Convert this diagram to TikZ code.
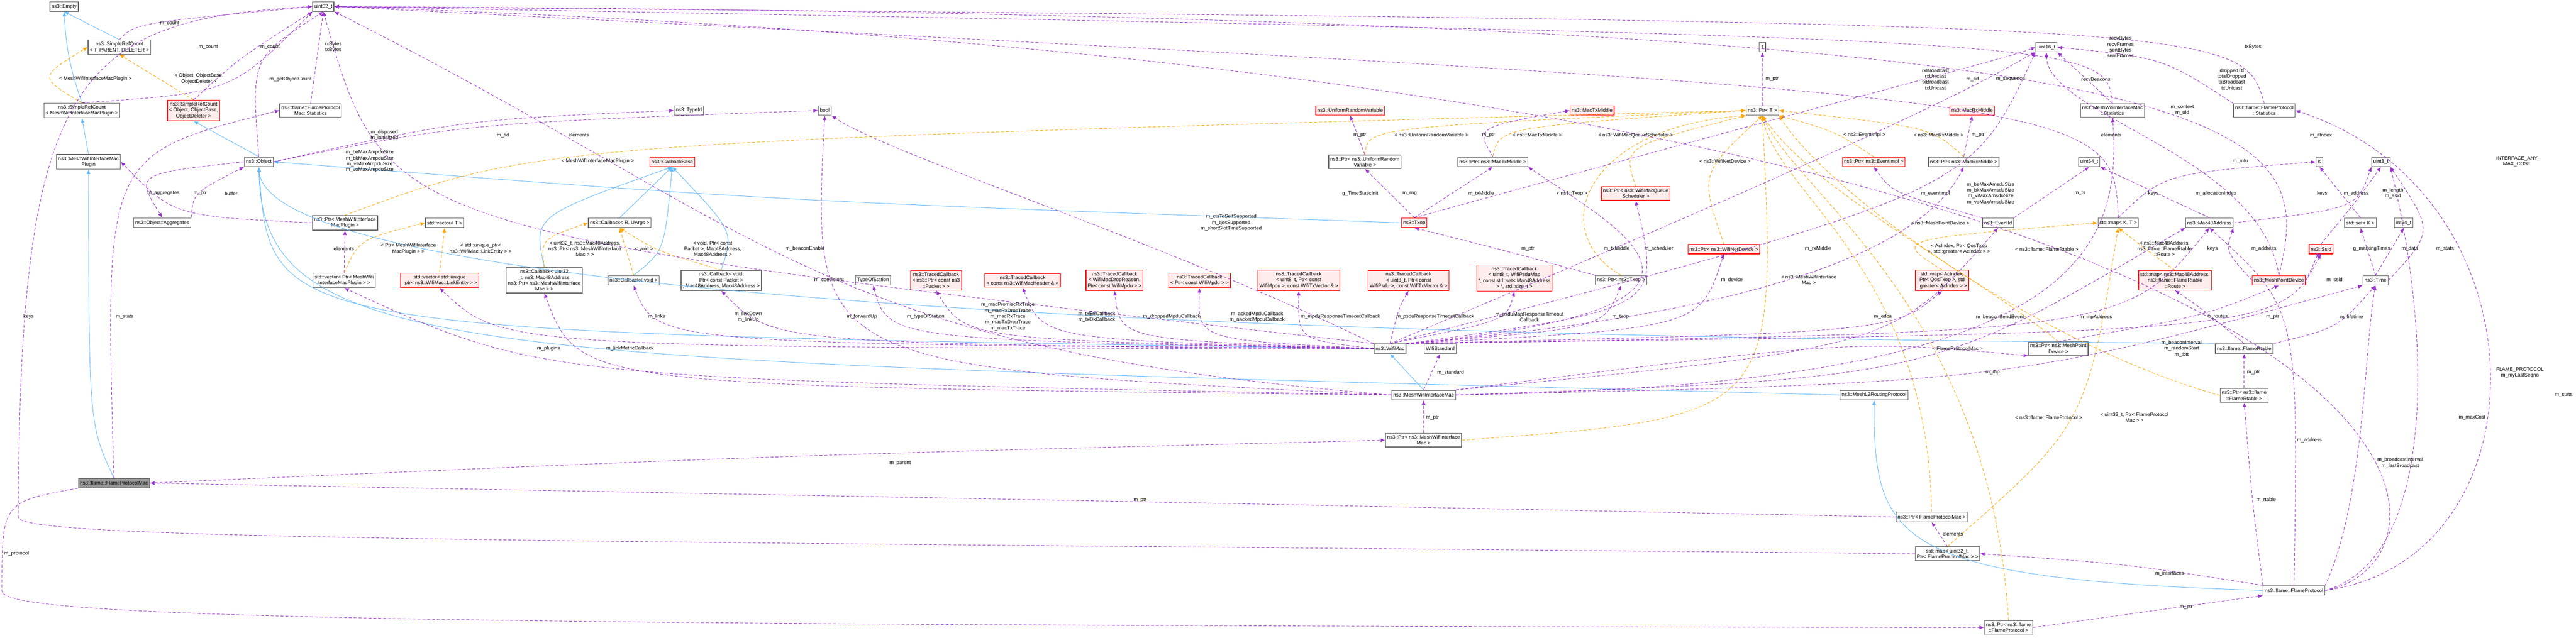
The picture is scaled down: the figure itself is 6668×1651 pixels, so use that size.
\documentclass[tikz,border=0pt]{standalone}
\usepackage{fontspec}
\setmainfont{Liberation Sans}
\usetikzlibrary{arrows.meta}
\definecolor{usec}{HTML}{9A32CD}
\definecolor{tplc}{HTML}{FFA500}
\definecolor{inhc}{HTML}{63B8FF}
\tikzset{
 box/.style={draw=black!60,fill=white,line width=0.5pt,font=\fontsize{3.7}{4.3}\selectfont,inner xsep=1.2pt,inner ysep=1.5pt,align=center,minimum height=7pt},
 rbox/.style={box,draw=red,fill=red!7},
 mbox/.style={box,fill=black!40,draw=black!60},
 lab/.style={font=\fontsize{3.7}{4.3}\selectfont,align=center,inner sep=0pt},
 tip/.style={-{Latex[length=3.4pt,width=2.8pt]}},
 usee/.style={tip,draw=usec,dashed,dash pattern=on 2.2pt off 1.4pt,line width=0.35pt},
 tpl/.style={tip,draw=tplc,dashed,dash pattern=on 2.2pt off 1.4pt,line width=0.35pt},
 inh/.style={tip,draw=inhc,line width=0.35pt},
}
\begin{document}
\begin{tikzpicture}[x=0.01cm,y=-0.01cm]
\useasboundingbox (0,0) rectangle (6668,1651);
% nodes
\node[box] (empty) at (166,17) {ns3::Empty};
\node[box] (u32) at (837,17) {uint32\_t};
\node[box] (srcT) at (309,122) {ns3::SimpleRefCount\\< T, PARENT, DELETER >};
\node[box] (srcP) at (212,286) {ns3::SimpleRefCount\\< MeshWifiInterfaceMacPlugin >};
\node[rbox] (srcO) at (501,286) {ns3::SimpleRefCount\\< Object, ObjectBase,\\ ObjectDeleter >};
\node[box] (fpmst) at (804,286) {ns3::flame::FlameProtocol\\Mac::Statistics};
\node[box] (plug) at (229,419) {ns3::MeshWifiInterfaceMac\\Plugin};
\node[box] (obj) at (670,419) {ns3::Object};
\node[box] (agg) at (420,577) {ns3::Object::Aggregates};
\node[box] (pplug) at (893,577) {ns3::Ptr< MeshWifiInterface\\MacPlugin >};
\node[box] (vecT) at (1151,577) {std::vector< T >};
\node[box] (cbR) at (1604,577) {ns3::Callback< R, UArgs >};
\node[box] (vplug) at (891,726) {std::vector< Ptr< MeshWifi\\InterfaceMacPlugin > >};
\node[rbox] (vlink) at (1138,726) {std::vector< std::unique\\\_ptr< ns3::WifiMac::LinkEntity > >};
\node[box] (cbU) at (1409,726) {ns3::Callback< uint32\\\_t, ns3::Mac48Address,\\ ns3::Ptr< ns3::MeshWifiInterface\\Mac > >};
\node[box] (cbV) at (1640,726) {ns3::Callback< void >};
\node[box] (cbP) at (1867,726) {ns3::Callback< void,\\ Ptr< const Packet >\\, Mac48Address, Mac48Address >};
\node[rbox] (cbase) at (1740,419) {ns3::CallbackBase};
\node[box] (typeid) at (1783,286) {ns3::TypeId};
\node[box] (bool) at (2135,286) {bool};
\node[box] (tos) at (2260,726) {TypeOfStation};
\node[rbox] (tc1) at (2423,726) {ns3::TracedCallback\\< ns3::Ptr< const ns3\\::Packet > >};
\node[rbox] (tc2) at (2647,726) {ns3::TracedCallback\\< const ns3::WifiMacHeader \& >};
\node[rbox] (tc3) at (2885,726) {ns3::TracedCallback\\< WifiMacDropReason,\\ Ptr< const WifiMpdu > >};
\node[rbox] (tc4) at (3105,726) {ns3::TracedCallback\\< Ptr< const WifiMpdu > >};
\node[rbox] (tc5) at (3362,726) {ns3::TracedCallback\\< uint8\_t, Ptr< const\\ WifiMpdu >, const WifiTxVector \& >};
\node[rbox] (tc6) at (3646,726) {ns3::TracedCallback\\< uint8\_t, Ptr< const\\ WifiPsdu >, const WifiTxVector \& >};
\node[rbox] (tc7) at (3920,720) {ns3::TracedCallback\\< uint8\_t, WifiPsduMap\\ *, const std::set< Mac48Address\\ > *, std::size\_t >};
\node[box] (T) at (4562,122) {T};
\node[rbox] (urv) at (3495,286) {ns3::UniformRandomVariable};
\node[rbox] (mtm) at (4121,286) {ns3::MacTxMiddle};
\node[box] (ptrT) at (4562,286) {ns3::Ptr< T >};
\node[box] (purv) at (3533,419) {ns3::Ptr< ns3::UniformRandom\\Variable >};
\node[box] (pmtm) at (3864,419) {ns3::Ptr< ns3::MacTxMiddle >};
\node[rbox] (pevi) at (4850,419) {ns3::Ptr< ns3::EventImpl >};
\node[rbox] (pwmqs) at (4234,501) {ns3::Ptr< ns3::WifiMacQueue\\Scheduler >};
\node[rbox] (txop) at (3661,577) {ns3::Txop};
\node[rbox] (pwnd) at (4462,645) {ns3::Ptr< ns3::WifiNetDevice >};
\node[box] (ptxop) at (4196,726) {ns3::Ptr< ns3::Txop >};
\node[box] (u16) at (5297,122) {uint16\_t};
\node[box] (mwst) at (5468,286) {ns3::MeshWifiInterfaceMac\\::Statistics};
\node[box] (fpst) at (5861,286) {ns3::flame::FlameProtocol\\::Statistics};
\node[rbox] (mrm) at (5105,286) {ns3::MacRxMiddle};
\node[box] (pmrm) at (5083,419) {ns3::Ptr< ns3::MacRxMiddle >};
\node[box] (u64) at (5408,419) {uint64\_t};
\node[box] (K) at (6004,419) {K};
\node[box] (u8) at (6163,419) {uint8\_t};
\node[box] (evid) at (5172,577) {ns3::EventId};
\node[box] (mapKT) at (5483,577) {std::map< K, T >};
\node[box] (mac48) at (5719,577) {ns3::Mac48Address};
\node[box] (setK) at (6110,577) {std::set< K >};
\node[box] (i64) at (6222,577) {int64\_t};
\node[rbox] (ssid) at (6008,645) {ns3::Ssid};
\node[rbox] (mapAc) at (5027,726) {std::map< AcIndex,\\ Ptr< QosTxop >, std\\::greater< AcIndex > >};
\node[rbox] (mapRt) at (5630,726) {std::map< ns3::Mac48Address,\\ ns3::flame::FlameRtable\\::Route >};
\node[rbox] (mpd) at (5899,726) {ns3::MeshPointDevice};
\node[box] (time) at (6149,726) {ns3::Time};
\node[box] (wmac) at (3598,903) {ns3::WifiMac};
\node[box] (wstd) at (3728,903) {WifiStandard};
\node[box] (mwim) at (3685,1023) {ns3::MeshWifiInterfaceMac};
\node[box] (pmwim) at (3685,1140) {ns3::Ptr< ns3::MeshWifiInterface\\Mac >};
\node[box] (l2rp) at (4851,1023) {ns3::MeshL2RoutingProtocol};
\node[box] (pmpd) at (5328,903) {ns3::Ptr< ns3::MeshPoint\\Device >};
\node[box] (frt) at (5809,903) {ns3::flame::FlameRtable};
\node[box] (pfrt) at (5809,1024) {ns3::Ptr< ns3::flame\\::FlameRtable >};
\node[box] (pfpm) at (5000,1339) {ns3::Ptr< FlameProtocolMac >};
\node[box] (mapfpm) at (5041,1434) {std::map< uint32\_t,\\ Ptr< FlameProtocolMac > >};
\node[box] (fp) at (5938,1529) {ns3::flame::FlameProtocol};
\node[box] (pfp) at (5199,1625) {ns3::Ptr< ns3::flame\\::FlameProtocol >};
\node[mbox] (fpm) at (295,1251) {ns3::flame::FlameProtocolMac};
% free coordinates
\coordinate (c1) at (48,1340);
\coordinate (c2) at (5,1530);
% inheritance
\draw[inh] (srcP.north) to[bend left=8] (empty.south);
\draw[inh] (srcT.north) -- (empty.south);
\draw[inh] (plug.north) -- (srcP.south);
\draw[inh] (obj.north) -- (srcO.south);
\draw[inh] (fpm.north) .. controls (230,1100) .. (plug.south);
\draw[inh] (txop.west) .. controls (2000,520) .. (obj.east);
\draw[inh] (wmac.west) .. controls (700,860) .. (obj.south);
\draw[inh] (l2rp.west) .. controls (1200,930) and (680,940) .. (obj.south);
\draw[inh] (frt.north west) .. controls (5000,880) and (700,870) .. (obj.south);
\draw[inh] (mwim.north) -- (wmac.south);
\draw[inh] (fp.west) .. controls (4900,1500) and (4851,1400) .. (l2rp.south);
\draw[inh] (cbR.north) -- (cbase.south);
\draw[inh] (cbU.north) .. controls (1380,560) .. (cbase.south);
\draw[inh] (cbV.north) .. controls (1720,650) .. (cbase.south);
\draw[inh] (cbP.north) .. controls (1900,600) .. (cbase.south);
% templates
\draw[tpl] (srcP.north) .. controls (100,200) .. (srcT.west);
\draw[tpl] (srcO.north) -- (srcT.south);
\draw[tpl] (pplug.north) .. controls (1400,370) .. (ptrT.west);
\draw[tpl] (vplug.north) .. controls (930,620) .. (vecT.west);
\draw[tpl] (vlink.north) -- (vecT.south);
\draw[tpl] (cbU.north) .. controls (1400,620) .. (cbR.west);
\draw[tpl] (cbV.north) -- (cbR.south);
\draw[tpl] (cbP.north) .. controls (1700,650) .. (cbR.south);
\draw[tpl] (purv.north) .. controls (3540,330) .. (ptrT.west);
\draw[tpl] (pmtm.north) .. controls (3880,330) .. (ptrT.west);
\draw[tpl] (pwmqs.north) .. controls (4200,380) .. (ptrT.south west);
\draw[tpl] (ptxop.north) .. controls (4000,600) and (4100,330) .. (ptrT.south west);
\draw[tpl] (pwnd.north) .. controls (4400,450) .. (ptrT.south);
\draw[tpl] (pmwim.east) .. controls (4600,1080) .. (ptrT.south);
\draw[tpl] (pevi.north) .. controls (4750,340) .. (ptrT.south east);
\draw[tpl] (pmrm.north) .. controls (5000,330) .. (ptrT.east);
\draw[tpl] (pmpd.north) .. controls (5100,700) and (4700,500) .. (ptrT.south);
\draw[tpl] (pfrt.west) .. controls (5300,900) and (4750,520) .. (ptrT.south east);
\draw[tpl] (pfpm.north) .. controls (4990,700) and (4600,500) .. (ptrT.south);
\draw[tpl] (pfp.north) .. controls (5150,800) and (4650,500) .. (ptrT.south);
\draw[tpl] (mapAc.north) .. controls (4900,620) .. (mapKT.west);
\draw[tpl] (mapRt.north) .. controls (5560,650) .. (mapKT.south);
\draw[tpl] (mapfpm.north) .. controls (5400,1100) .. (mapKT.south);
% usage
\draw[usee] (srcT.north) .. controls (350,60) .. (u32.west);
\draw[usee] (srcP.north) .. controls (600,240) .. (u32.south west);
\draw[usee] (srcO.north) .. controls (620,150) .. (u32.south west);
\draw[usee] (obj.north) .. controls (650,150) .. (u32.south);
\draw[usee] (fpmst.north) -- (u32.south);
\draw[usee] (obj.east) .. controls (1200,320) .. (bool.west);
\draw[usee] (obj.east) .. controls (1200,310) .. (typeid.west);
\draw[usee] (obj.west) .. controls (350,450) .. (agg.north);
\draw[usee] (agg.north east) .. controls (500,500) .. (obj.south west);
\draw[usee] (pplug.west) .. controls (450,560) .. (plug.east);
\draw[usee] (vplug.north) -- (pplug.south);
\draw[usee] (ptrT.north) -- (T.south);
\draw[usee] (purv.north) -- (urv.south);
\draw[usee] (pmtm.north) .. controls (3820,330) .. (mtm.west);
\draw[usee] (pmrm.north) -- (mrm.south);
\draw[usee] (txop.north) -- (purv.south);
\draw[usee] (txop.north) -- (pmtm.south);
\draw[usee] (ptxop.north west) .. controls (3900,650) .. (txop.south);
\draw[usee] (evid.north west) .. controls (4900,500) .. (pevi.south);
\draw[usee] (evid.north east) -- (u64.south);
\draw[usee] (mac48.north) -- (u64.south east);
\draw[usee] (mapKT.north) .. controls (5600,450) .. (K.west);
\draw[usee] (setK.north) -- (K.south);
\draw[usee] (mac48.east) .. controls (6100,540) .. (u8.south west);
\draw[usee] (ssid.north) .. controls (6100,520) .. (u8.south);
\draw[usee] (time.north) -- (i64.south);
\draw[usee] (time.north) -- (setK.south);
\draw[usee] (time.east) .. controls (6300,600) .. (u8.south east);
\draw[usee] (mapKT.north) .. controls (5470,250) .. (u32.east);
\draw[usee] (mwst.north) -- (u16.south east);
\draw[usee] (mwst.north) .. controls (5450,100) .. (u32.east);
\draw[usee] (fpst.north west) .. controls (5600,150) .. (u16.east);
\draw[usee] (fpst.north) .. controls (5800,60) .. (u32.east);
\draw[usee] (txop.north) .. controls (4800,250) and (5200,150) .. (u16.west);
\draw[usee] (wmac.north) .. controls (5000,300) and (5150,200) .. (u16.south west);
\draw[usee] (mpd.north) .. controls (5850,400) and (5300,300) .. (u16.south);
\draw[usee] (mpd.north) .. controls (6000,300) and (5900,40) .. (u32.east);
\draw[usee] (mpd.west) .. controls (5760,650) .. (mac48.south east);
\draw[usee] (mpd.east) .. controls (6000,660) .. (ssid.south);
\draw[usee] (pmpd.north) .. controls (5700,820) .. (mpd.south);
\draw[usee] (frt.north) .. controls (5700,800) .. (mapRt.south);
\draw[usee] (frt.north east) .. controls (6050,850) .. (time.south);
\draw[usee] (pfrt.north) -- (frt.south);
\draw[usee] (fp.north west) .. controls (5830,1300) .. (pfrt.south);
\draw[usee] (fp.north west) .. controls (5500,1460) .. (mapfpm.east);
\draw[usee] (pfp.east) -- (fp.south west);
\draw[usee] (mapfpm.north) -- (pfpm.south);
\draw[usee] (fp.north) .. controls (5950,800) .. (mac48.south);
\draw[usee] (fp.north east) .. controls (6120,1300) and (6120,900) .. (time.south);
\draw[usee] (fp.east) .. controls (6300,1450) and (6300,900) .. (u8.south east);
\draw[usee] (fp.east) .. controls (6450,1450) and (6450,200) .. (u32.east);
\draw[usee] (fp.east) .. controls (6600,1450) and (6600,500) .. (fpst.east);
\draw[usee] (mwim.north east) .. controls (4800,880) .. (pmpd.south west);
\draw[usee] (mwim.north east) .. controls (4900,900) .. (evid.south);
\draw[usee] (mwim.east) .. controls (5000,980) .. (mac48.south west);
\draw[usee] (mwim.east) .. controls (5300,1000) and (5500,700) .. (mwst.south);
\draw[usee] (mwim.east) .. controls (5200,990) .. (time.south west);
\draw[usee] (mwim.west) .. controls (1400,980) .. (vplug.south);
\draw[usee] (mwim.west) .. controls (1500,1000) .. (cbU.south);
\draw[usee] (mwim.west) .. controls (2100,950) .. (bool.south);
\draw[usee] (mwim.west) .. controls (2100,900) and (2000,600) .. (u32.south east);
\draw[usee] (mwim.north) -- (wstd.south);
\draw[usee] (pmwim.north) -- (mwim.south);
\draw[usee] (wmac.west) .. controls (1300,900) .. (vlink.south);
\draw[usee] (wmac.west) .. controls (1700,890) .. (cbV.south);
\draw[usee] (wmac.west) .. controls (2000,890) .. (cbP.south);
\draw[usee] (wmac.west) .. controls (2300,880) .. (tos.south);
\draw[usee] (wmac.west) .. controls (2500,880) .. (tc1.south);
\draw[usee] (wmac.west) .. controls (2700,880) .. (tc2.south);
\draw[usee] (wmac.west) .. controls (2900,880) .. (tc3.south);
\draw[usee] (wmac.west) .. controls (3100,880) .. (tc4.south);
\draw[usee] (wmac.west) .. controls (3360,880) .. (tc5.south);
\draw[usee] (wmac.north) .. controls (3620,800) .. (tc6.south);
\draw[usee] (wmac.north) .. controls (3900,830) .. (tc7.south);
\draw[usee] (wmac.north east) .. controls (4150,850) .. (ptxop.south);
\draw[usee] (wmac.north east) .. controls (4900,860) .. (mapAc.south);
\draw[usee] (wmac.north east) .. controls (4400,850) .. (pwnd.south);
\draw[usee] (wmac.north east) .. controls (4300,800) .. (pwmqs.south);
\draw[usee] (wmac.north east) .. controls (4600,800) and (4200,600) .. (pmtm.south east);
\draw[usee] (wmac.north east) .. controls (4700,800) and (5000,600) .. (pmrm.south);
\draw[usee] (wmac.north east) .. controls (5500,860) .. (mac48.south);
\draw[usee] (wmac.north east) .. controls (5900,860) .. (ssid.south);
\draw[usee] (wmac.north west) .. controls (3000,620) and (2300,400) .. (bool.south east);
\draw[usee] (wmac.north west) .. controls (1000,600) .. (u32.south);
\draw[usee] (wmac.north) .. controls (5100,500) .. (u16.south west);
\draw[usee] (pfpm.west) .. controls (3000,1300) .. (fpm.east);
\draw[usee] (fpm.east) .. controls (2000,1180) .. (pmwim.west);
\draw[usee] (fpm.north) .. controls (270,400) .. (fpmst.west);
\draw[usee] (mapfpm.west) .. controls (1500,1400) and (48,1400) .. (c1) .. controls (48,200) and (200,50) .. (u32.west);
\draw[usee] (fpm.south west) .. controls (5,1300) .. (c2) .. controls (5,1600) and (1000,1620) .. (pfp.west);
% labels
\node[lab] (L1) at (439,61) {m\_count};
\node[lab] (L2) at (247,204) {< MeshWifiInterfaceMacPlugin >};
\node[lab] (L3) at (539,122) {m\_count};
\node[lab] (L4) at (699,122) {m\_count};
\node[lab] (L5) at (515,204) {< Object, ObjectBase,\\ ObjectDeleter >};
\node[lab] (L6) at (752,205) {m\_getObjectCount};
\node[lab] (L7) at (863,122) {rxBytes\\txBytes};
\node[lab] (L8) at (995,350) {m\_disposed\\m\_initialized};
\node[lab] (L9) at (1302,350) {m\_tid};
\node[lab] (L10) at (1498,350) {elements};
\node[lab] (L11) at (957,418) {m\_beMaxAmpduSize\\m\_bkMaxAmpduSize\\m\_viMaxAmpduSize\\m\_voMaxAmpduSize};
\node[lab] (L12) at (1547,418) {< MeshWifiInterfaceMacPlugin >};
\node[lab] (L13) at (423,501) {m\_aggregates};
\node[lab] (L14) at (518,501) {m\_ptr};
\node[lab] (L15) at (598,501) {buffer};
\node[lab] (L16) at (890,644) {elements};
\node[lab] (L17) at (1057,644) {< Ptr< MeshWifiInterface\\MacPlugin > >};
\node[lab] (L18) at (1244,644) {< std::unique\_ptr<\\ns3::WifiMac::LinkEntity > >};
\node[lab] (L19) at (1514,644) {< uint32\_t, ns3::Mac48Address,\\ns3::Ptr< ns3::MeshWifiInterface\\Mac > >};
\node[lab] (L20) at (1667,644) {< void >};
\node[lab] (L21) at (74,820) {keys};
\node[lab] (L22) at (323,820) {m\_stats};
\node[lab] (L23) at (1845,644) {< void, Ptr< const\\Packet >, Mac48Address,\\Mac48Address >};
\node[lab] (L24) at (2084,644) {m\_beaconEnable};
\node[lab] (L25) at (3187,577) {m\_ctsToSelfSupported\\m\_qosSupported\\m\_shortSlotTimeSupported};
\node[lab] (L26) at (2146,725) {m\_coefficient};
\node[lab] (L27) at (1700,820) {m\_links};
\node[lab] (L28) at (1937,821) {m\_linkDown\\m\_linkUp};
\node[lab] (L29) at (2231,820) {m\_forwardUp};
\node[lab] (L30) at (2396,820) {m\_typeOfStation};
\node[lab] (L31) at (2609,820) {m\_macPromiscRxTrace\\m\_macRxDropTrace\\m\_macRxTrace\\m\_macTxDropTrace\\m\_macTxTrace};
\node[lab] (L32) at (2839,821) {m\_txErrCallback\\m\_txOkCallback};
\node[lab] (L33) at (3033,820) {m\_droppedMpduCallback};
\node[lab] (L34) at (3254,821) {m\_ackedMpduCallback\\m\_nackedMpduCallback};
\node[lab] (L35) at (2330,1199) {m\_parent};
\node[lab] (L36) at (2951,1295) {m\_ptr};
\node[lab] (L37) at (1420,903) {m\_plugins};
\node[lab] (L38) at (1631,903) {m\_linkMetricCallback};
\node[lab] (L39) at (43,1434) {m\_protocol};
\node[lab] (L40) at (4587,205) {m\_ptr};
\node[lab] (L41) at (3520,350) {m\_ptr};
\node[lab] (L42) at (3705,350) {< ns3::UniformRandomVariable >};
\node[lab] (L43) at (3853,350) {m\_ptr};
\node[lab] (L44) at (3979,350) {< ns3::MacTxMiddle >};
\node[lab] (L45) at (4234,350) {< ns3::WifiMacQueueScheduler >};
\node[lab] (L46) at (4826,350) {< ns3::EventImpl >};
\node[lab] (L47) at (5018,350) {< ns3::MacRxMiddle >};
\node[lab] (L48) at (5120,350) {m\_ptr};
\node[lab] (L49) at (4465,418) {< ns3::WifiNetDevice >};
\node[lab] (L50) at (3521,501) {g\_TimeStaticInit};
\node[lab] (L51) at (3649,501) {m\_rng};
\node[lab] (L52) at (3834,501) {m\_txMiddle};
\node[lab] (L53) at (4069,501) {< ns3::Txop >};
\node[lab] (L54) at (3955,644) {m\_ptr};
\node[lab] (L55) at (4185,644) {m\_txMiddle};
\node[lab] (L56) at (4294,644) {m\_scheduler};
\node[lab] (L57) at (4706,644) {m\_rxMiddle};
\node[lab] (L58) at (4483,725) {m\_device};
\node[lab] (L59) at (4682,725) {< ns3::MeshWifiInterface\\Mac >};
\node[lab] (L60) at (5010,501) {m\_eventImpl};
\node[lab] (L61) at (5022,577) {< ns3::MeshPointDevice >};
\node[lab] (L62) at (5071,645) {< AcIndex, Ptr< QosTxop\\>, std::greater< AcIndex > >};
\node[lab] (L63) at (5298,645) {< ns3::flame::FlameRtable >};
\node[lab] (L64) at (5153,501) {m\_beMaxAmsduSize\\m\_bkMaxAmsduSize\\m\_viMaxAmsduSize\\m\_voMaxAmsduSize};
\node[lab] (L65) at (5384,501) {m\_ts};
\node[lab] (L66) at (5574,501) {keys};
\node[lab] (L67) at (5736,501) {m\_allocationIndex};
\node[lab] (L68) at (6011,501) {keys};
\node[lab] (L69) at (6099,501) {m\_address};
\node[lab] (L70) at (6194,501) {m\_length\\m\_ssid};
\node[lab] (L71) at (5799,418) {m\_mtu};
\node[lab] (L72) at (6008,350) {m\_ifIndex};
\node[lab] (L73) at (5465,350) {elements};
\node[lab] (L74) at (5649,285) {m\_context\\m\_uid};
\node[lab] (L75) at (5425,205) {recvBeacons};
\node[lab] (L76) at (5489,122) {recvBytes\\recvFrames\\sentBytes\\sentFrames};
\node[lab] (L77) at (5832,122) {txBytes};
\node[lab] (L78) at (5777,205) {droppedTtl\\totalDropped\\txBroadcast\\txUnicast};
\node[lab] (L79) at (5010,205) {rxBroadcast\\rxUnicast\\txBroadcast\\txUnicast};
\node[lab] (L80) at (5106,205) {m\_tid};
\node[lab] (L81) at (5204,205) {m\_sequence};
\node[lab] (L82) at (6515,418) {INTERFACE\_ANY\\MAX\_COST};
\node[lab] (L83) at (5603,644) {< ns3::Mac48Address,\\ns3::flame::FlameRtable\\::Route >};
\node[lab] (L84) at (5727,644) {keys};
\node[lab] (L85) at (5860,644) {m\_address};
\node[lab] (L86) at (6139,644) {g\_markingTimes};
\node[lab] (L87) at (6238,644) {m\_data};
\node[lab] (L88) at (6329,644) {m\_stats};
\node[lab] (L89) at (6043,725) {m\_ssid};
\node[lab] (L90) at (4874,820) {m\_edca};
\node[lab] (L91) at (5177,821) {m\_beaconSendEvent};
\node[lab] (L92) at (5425,821) {m\_mpAddress};
\node[lab] (L93) at (5739,821) {m\_routes};
\node[lab] (L94) at (5883,821) {m\_ptr};
\node[lab] (L95) at (6087,821) {m\_lifetime};
\node[lab] (L96) at (4195,820) {m\_txop};
\node[lab] (L97) at (3470,820) {m\_mpduResponseTimeoutCallback};
\node[lab] (L98) at (3715,820) {m\_psduResponseTimeoutCallback};
\node[lab] (L99) at (3959,821) {m\_psduMapResponseTimeout\\Callback};
\node[lab] (L100) at (3755,965) {m\_standard};
\node[lab] (L101) at (3708,1082) {m\_ptr};
\node[lab] (L102) at (5067,903) {< FlameProtocolMac >};
\node[lab] (L103) at (5158,965) {m\_mp};
\node[lab] (L104) at (5647,903) {m\_beaconInterval\\m\_randomStart\\m\_tbtt};
\node[lab] (L105) at (5833,965) {m\_ptr};
\node[lab] (L106) at (5303,1081) {< ns3::flame::FlameProtocol >};
\node[lab] (L107) at (5525,1081) {< uint32\_t, Ptr< FlameProtocol\\Mac > >};
\node[lab] (L108) at (5978,1140) {m\_address};
\node[lab] (L109) at (6213,1199) {m\_broadcastInterval\\m\_lastBroadcast};
\node[lab] (L110) at (6399,1081) {m\_maxCost};
\node[lab] (L111) at (6523,965) {FLAME\_PROTOCOL\\m\_myLastSeqno};
\node[lab] (L112) at (6636,1023) {m\_stats};
\node[lab] (L113) at (5866,1295) {m\_rtable};
\node[lab] (L114) at (5055,1383) {elements};
\node[lab] (L115) at (5616,1485) {m\_interfaces};
\node[lab] (L116) at (5659,1573) {m\_ptr};
\end{tikzpicture}
\end{document}
